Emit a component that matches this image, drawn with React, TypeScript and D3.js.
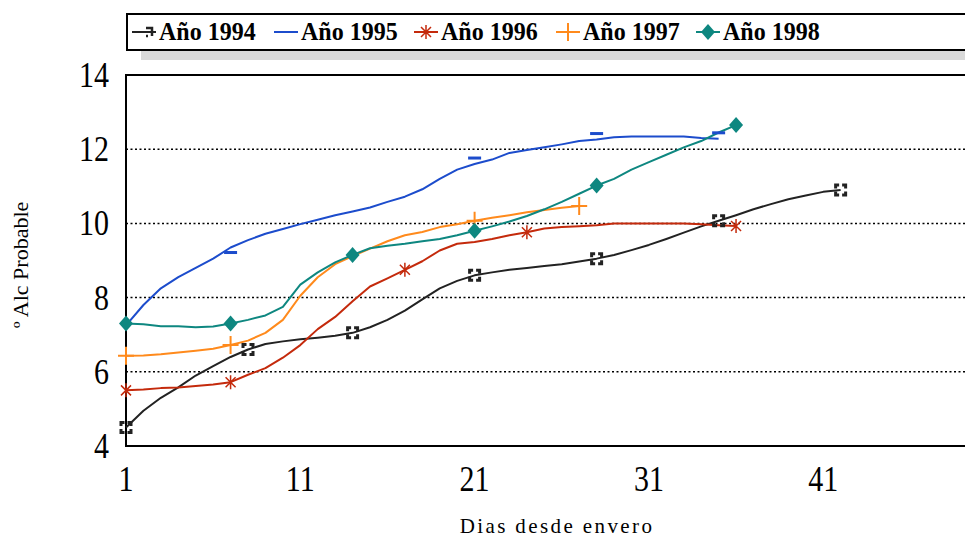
import React from 'react';
import * as d3 from 'd3';

// days since veraison (envero), daily readings
const years = ['Año 1994', 'Año 1995', 'Año 1996', 'Año 1997', 'Año 1998'];

const v1994 = [4.5, 4.95, 5.3, 5.58, 5.9, 6.15, 6.4, 6.6, 6.75, 6.82, 6.88, 6.92, 6.97, 7.05, 7.2, 7.4, 7.65, 7.95, 8.25, 8.45, 8.6,
  8.68, 8.75, 8.8, 8.85, 8.9, 8.97, 9.05, 9.15, 9.28, 9.42, 9.58, 9.75, 9.92, 10.07, 10.22, 10.38, 10.52, 10.65, 10.75, 10.85, 10.9];
const v1995 = [7.25, 7.8, 8.25, 8.55, 8.8, 9.05, 9.35, 9.55, 9.72, 9.85, 9.98, 10.1, 10.22, 10.32, 10.43, 10.58, 10.72, 10.92, 11.2,
  11.45, 11.6, 11.72, 11.9, 11.98, 12.05, 12.13, 12.22, 12.26, 12.32, 12.34, 12.34, 12.34, 12.34, 12.3, 12.28];
const v1996 = [5.5, 5.52, 5.56, 5.58, 5.62, 5.66, 5.72, 5.92, 6.1, 6.38, 6.72, 7.15, 7.48, 7.9, 8.3, 8.52, 8.75, 8.98, 9.27, 9.45,
  9.5, 9.58, 9.68, 9.76, 9.86, 9.9, 9.92, 9.95, 10.0, 10.0, 10.0, 10.0, 10.0, 9.98, 9.95, 9.93];
const v1997 = [6.43, 6.44, 6.47, 6.52, 6.57, 6.62, 6.72, 6.84, 7.05, 7.4, 8.05, 8.55, 8.9, 9.12, 9.32, 9.52, 9.68, 9.77, 9.9, 9.98,
  10.07, 10.15, 10.22, 10.3, 10.36, 10.42, 10.47];
const v1998 = [7.3, 7.28, 7.23, 7.23, 7.2, 7.22, 7.3, 7.4, 7.52, 7.75, 8.35, 8.68, 8.95, 9.15, 9.33, 9.4, 9.45, 9.52, 9.58, 9.68,
  9.8, 9.92, 10.05, 10.2, 10.38, 10.58, 10.8, 11.02, 11.2, 11.45, 11.65, 11.85, 12.05, 12.22, 12.45, 12.65];

// days that carry a marker
const mk1994 = [1, 8, 14, 21, 28, 35, 42];
const mk1995 = [7, 21, 28, 35];
const mk1996 = [1, 7, 17, 24, 36];
const mk1997 = [1, 7, 21, 27];
const mk1998 = [1, 7, 14, 21, 28, 36];

const xTicks = [1, 11, 21, 31, 41];
const yTicks = [4, 6, 8, 10, 12, 14];
const gridVals = [6, 8, 10, 12];

const colors = ['#222222', '#1c4ccc', '#c42a0c', '#ff8a1c', '#0e8780'];
const allValues = [v1994, v1995, v1996, v1997, v1998];
const allMarks = [mk1994, mk1995, mk1996, mk1997, mk1998];
// the blue dash markers are drawn slightly off the line in the original
const blueOffsets = [5, -6, -6, -6];

const serif = '"Liberation Serif", "Times New Roman", serif';

const Marker = ({ kind, x, y, color }: { kind: number; x: number; y: number; color: string }) => {
  if (kind === 0) {
    return <rect x={x - 5} y={y - 5} width={10} height={10} fill="none" stroke={color} strokeWidth={3}
      strokeDasharray="7 3" strokeDashoffset={3.5} />;
  }
  if (kind === 1) {
    return <rect x={x - 6.5} y={y - 1.5} width={13} height={3} fill={color} />;
  }
  if (kind === 2) {
    return <path d={`M${x - 5},${y - 5}L${x + 5},${y + 5}M${x - 5},${y + 5}L${x + 5},${y - 5}M${x},${y - 7}L${x},${y + 7}`}
      stroke={color} strokeWidth={1.5} fill="none" />;
  }
  if (kind === 3) {
    return <path d={`M${x},${y - 9}L${x},${y + 9}M${x - 8},${y}L${x + 8},${y}`} stroke={color} strokeWidth={2} fill="none" />;
  }
  return <path d={`M${x},${y - 8}L${x + 7},${y}L${x},${y + 8}L${x - 7},${y}Z`} fill={color} />;
};

export default function App() {
  const width = 965;
  const height = 539;
  const left = 126, top = 75, bottom = 446;

  const x = d3.scaleLinear().domain([1, 51]).range([left, left + 50 * 17.43]);
  const y = d3.scaleLinear().domain([4, 14]).range([bottom, top]);

  const line = d3.line<number>()
    .x((_, i) => x(i + 1))
    .y(d => y(d));

  const legendX = [132, 274, 414, 556, 696];

  return (
    <svg width={width} height={height} style={{ position: 'absolute', left: 0, top: 0, background: '#fff', fontFamily: serif }}>
      {/* legend */}
      <rect x={141} y={50} width={840} height={10} fill="#d9d9d9" />
      <rect x={127} y={14} width={850} height={36} fill="#fff" stroke="#000" strokeWidth={2} />
      {years.map((name, i) => (
        <g key={name}>
          <line x1={legendX[i]} x2={legendX[i] + 24} y1={32} y2={32} stroke={colors[i]} strokeWidth={2} />
          {i === 0
            ? <path d={`M${legendX[i] + 14},${28}L${legendX[i] + 20},${28}L${legendX[i] + 20},${36}M${legendX[i] + 14},${36}L${legendX[i] + 16},${36}`}
                stroke={colors[i]} strokeWidth={2.5} fill="none" />
            : i === 1 ? null
            : <Marker kind={i} x={legendX[i] + 12} y={32} color={colors[i]} />}
          <text transform={`translate(${legendX[i] + 27},40) scale(1,1.08)`} fontSize={24} fontWeight="bold" fill="#000">{name}</text>
        </g>
      ))}

      {/* grid */}
      {gridVals.map(v => (
        <line key={v} x1={left} x2={width} y1={y(v)} y2={y(v)} stroke="#000" strokeWidth={1.5} strokeDasharray="2 2.5" />
      ))}

      {/* plot frame */}
      <rect x={left} y={top} width={900} height={bottom - top} fill="none" stroke="#000" strokeWidth={2} />

      {/* y tick labels */}
      {yTicks.map(v => (
        <text key={v} transform={`translate(109,${y(v) + 12}) scale(1,1.18)`} fontSize={30} textAnchor="end" fill="#000">{v}</text>
      ))}
      {/* x tick labels */}
      {xTicks.map(v => (
        <text key={v} transform={`translate(${x(v)},491) scale(1,1.18)`} fontSize={30} textAnchor="middle" fill="#000">{v}</text>
      ))}

      <text x={557} y={533} fontSize={21} textAnchor="middle" letterSpacing={2.4} fill="#000">Dias desde envero</text>
      <text transform={`translate(28,${265}) rotate(-90)`} fontSize={22} textAnchor="middle" fill="#000">º Alc Probable</text>

      {/* series */}
      {allValues.map((vals, i) => (
        <path key={years[i]} d={line(vals) || ''} fill="none" stroke={colors[i]} strokeWidth={2} strokeLinejoin="round" />
      ))}
      {allMarks.map((days, i) => days.map((dd, j) => (
        <Marker key={`${i}-${dd}`} kind={i} x={x(dd)} y={y(allValues[i][dd - 1]) + (i === 1 ? blueOffsets[j] : 0)} color={colors[i]} />
      )))}
    </svg>
  );
}
